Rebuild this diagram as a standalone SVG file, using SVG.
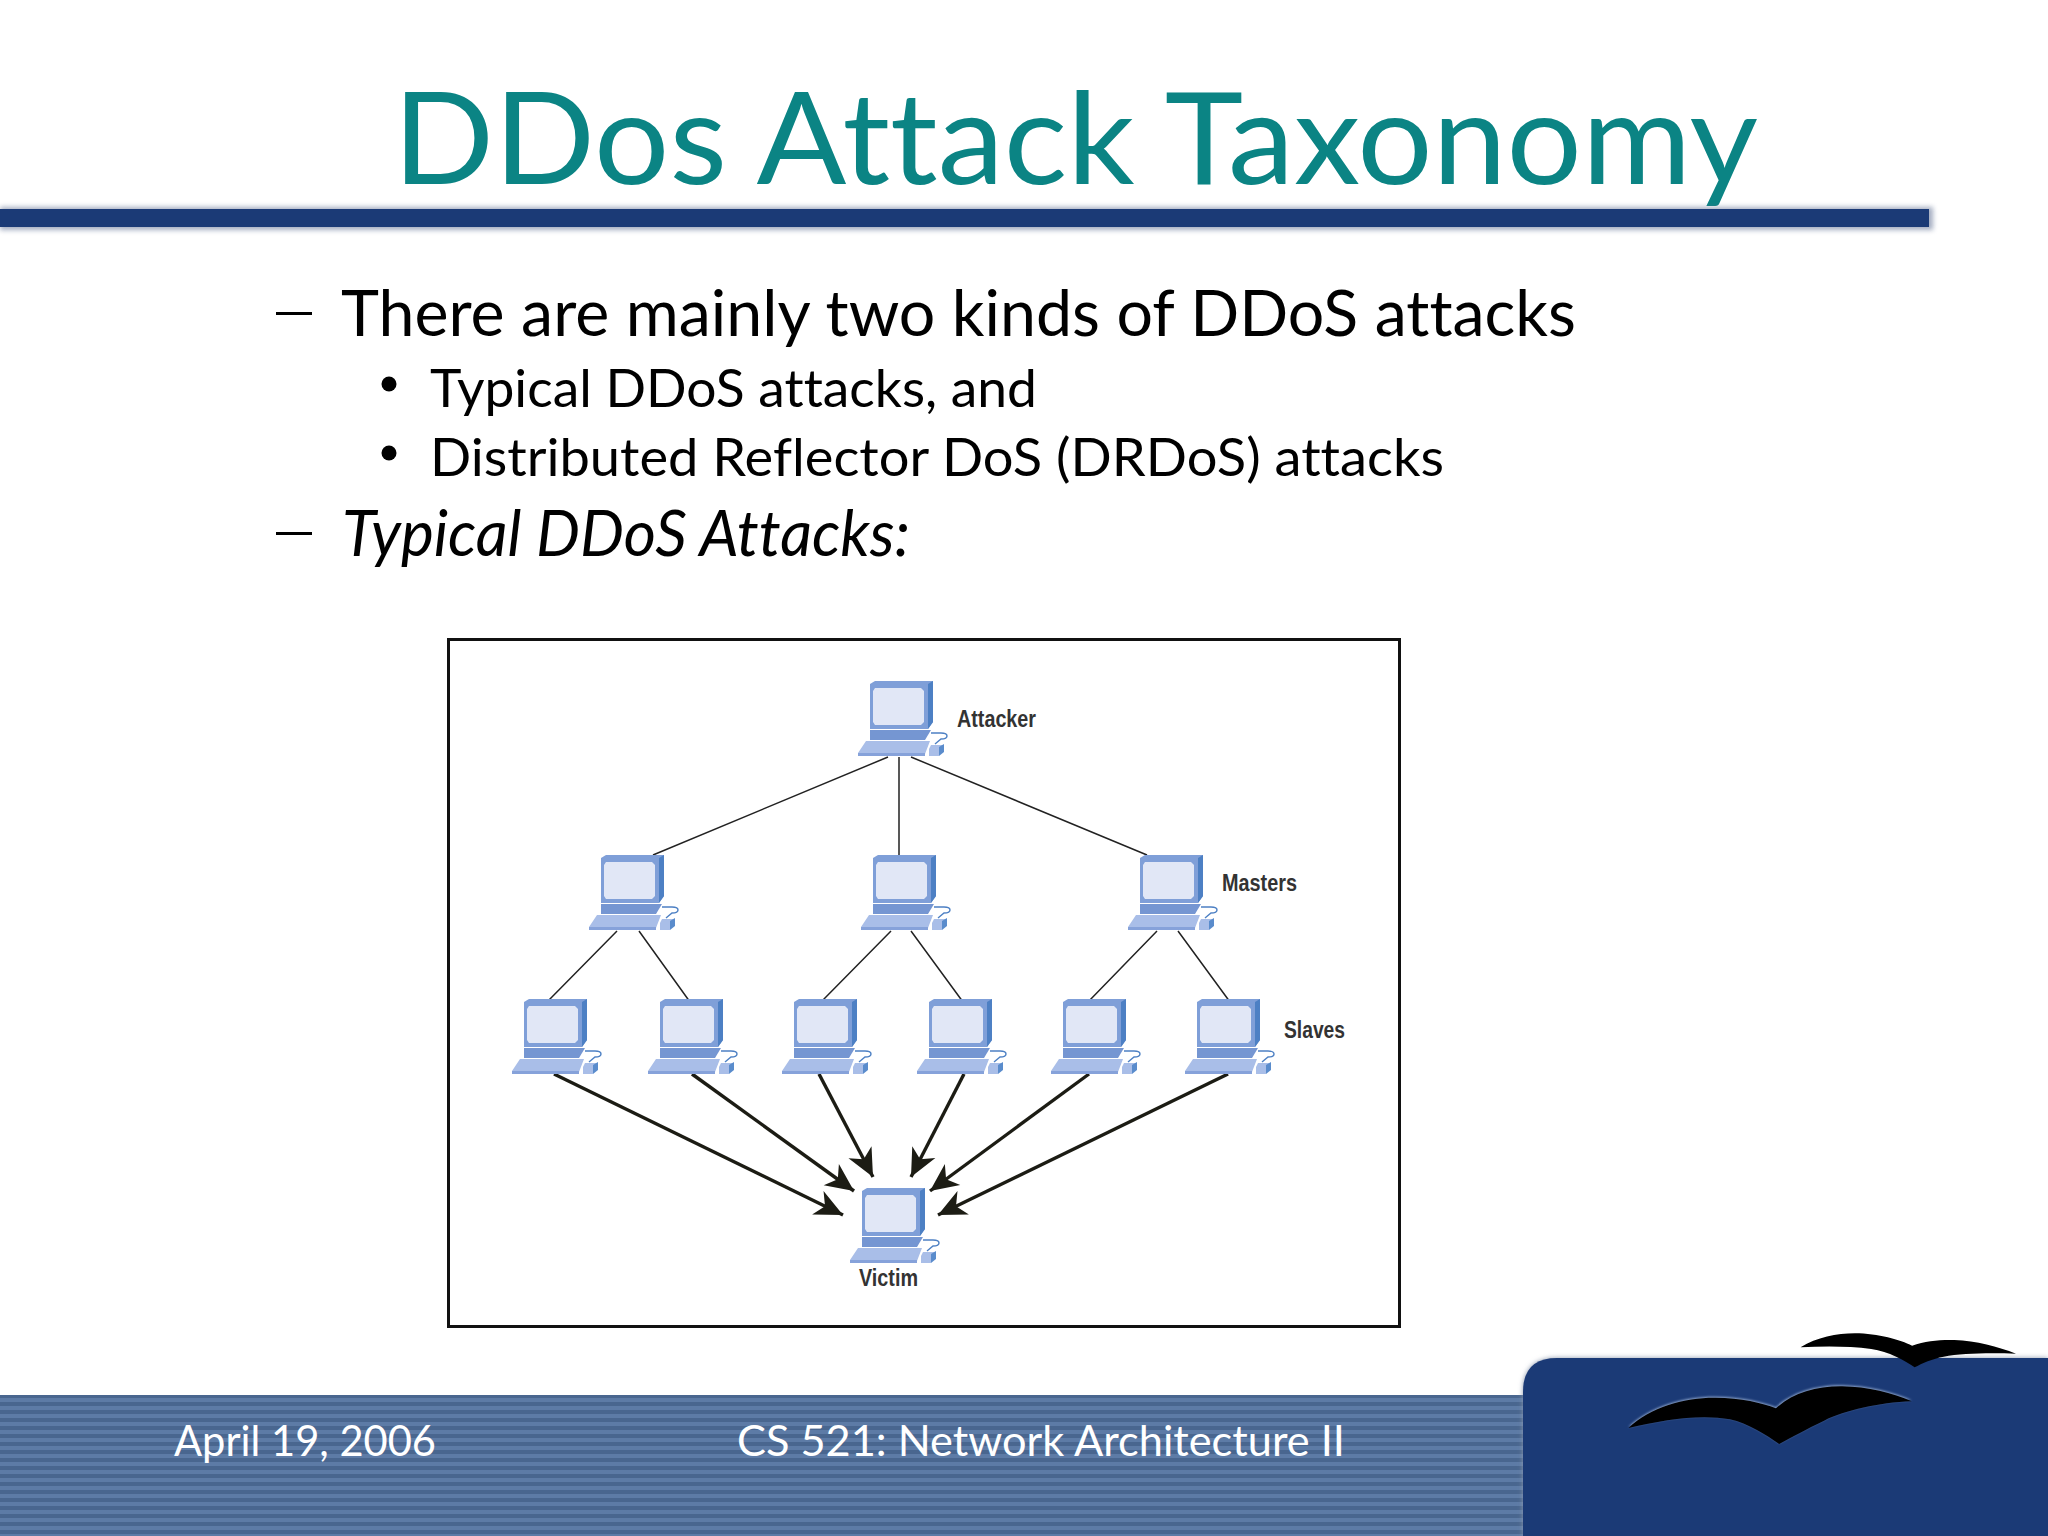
<svg xmlns="http://www.w3.org/2000/svg" width="2048" height="1536" viewBox="0 0 2048 1536">
<style>
text{font-family:"Lato","Open Sans","Liberation Sans",sans-serif;font-variant-ligatures:none}
.title{font-size:128px;fill:#0b8484}
.l1{font-size:64px;fill:#000}
.l2{font-size:53px;fill:#000}
.foot{font-size:43px;fill:#fff}
.lbl{font-family:"Liberation Sans",Arial,sans-serif;font-size:23px;font-weight:700;fill:#333}
.wire{stroke:#222;stroke-width:1.5;fill:none}
.arrow{stroke:#1c1c14;stroke-width:3.4;fill:none;marker-end:url(#head)}
</style>
<defs>
<marker id="head" markerUnits="userSpaceOnUse" markerWidth="32" markerHeight="30" refX="29" refY="15" orient="auto">
<path d="M29,15 L1,2 L9,15 L1,28 Z" fill="#1c1c14"/>
</marker>
<pattern id="stripes" width="8" height="8" patternUnits="userSpaceOnUse" y="1395">
<rect width="8" height="8" fill="#49668f"/>
<rect y="3" width="8" height="4" fill="#5d7ba6"/>
</pattern>
<filter id="soft" x="-5%" y="-50%" width="110%" height="200%"><feGaussianBlur stdDeviation="2.5"/></filter>
<filter id="glow" x="-10%" y="-30%" width="120%" height="160%"><feGaussianBlur stdDeviation="3"/></filter>
<symbol id="pc" overflow="visible">
<path d="M11,-72 L16,-75 L74,-75 L74,-34 L69,-27 L11,-27 Z" fill="#7f9fd8"/>
<path d="M69,-72 L74,-75 L74,-34 L69,-27 Z" fill="#4d80c4"/>
<path d="M16,-68 H62 L65,-65 V-34 L62,-31 H16 L14,-34 V-65 Z" fill="#e1e7f6"/>
<path d="M11,-26 H72 L66,-16 H11 Z" fill="#7596d2"/>
<path d="M7,-15 H71 L66,-2 V0 H-1 V-3 Z" fill="#a9bee8"/>
<path d="M-1,-3 H66 V0 H-1 Z" fill="#86a2da"/>
<path d="M72,-11 H84 L80,-1 V0 H70 V-7 Z" fill="#a9bee8"/>
<path d="M80,-9 L85,-12 V-4 L80,0 Z" fill="#5a8ccc"/>
<path d="M72,-23 H82 Q88,-23 88,-20 Q88,-17 82,-17 L76,-12" fill="none" stroke="#4d80c4" stroke-width="1.4"/>
</symbol>
<path id="bird1" d="M410,384 C470,320 570,292 650,293 C720,294 780,308 817,325 C860,280 930,258 1000,259 C1070,260 1140,280 1192,304 C1100,308 1010,330 950,362 C900,388 860,412 826,432 C790,405 740,370 690,358 C610,342 510,358 410,384 Z"/>
<path id="bird2" d="M885,142 C930,112 985,100 1035,100 C1100,100 1160,120 1193,137 C1230,122 1270,119 1310,120 C1370,122 1430,140 1480,161 C1400,158 1330,160 1280,170 C1250,176 1220,190 1200,202 C1170,180 1130,155 1080,147 C1020,138 950,138 885,142 Z"/>
</defs>
<rect width="2048" height="1536" fill="#fff"/>
<g id="title"><text class="title" x="393" y="184" textLength="1365" lengthAdjust="spacingAndGlyphs">DDos Attack Taxonomy</text></g>
<g id="rule">
<rect x="0" y="207" width="1933" height="23" fill="#5a6b8f" opacity=".55" filter="url(#soft)"/>
<rect x="0" y="209" width="1929" height="18" fill="#1b3a76"/>
</g>
<g id="body">
<rect x="276" y="312" width="36" height="3" fill="#000"/>
<text class="l1" x="341" y="336" textLength="1235" lengthAdjust="spacingAndGlyphs">There are mainly two kinds of DDoS attacks</text>
<circle cx="389" cy="384" r="7.500" fill="#000"/>
<text class="l2" x="430" y="407" textLength="607" lengthAdjust="spacingAndGlyphs">Typical DDoS attacks, and</text>
<circle cx="389" cy="453" r="7.500" fill="#000"/>
<text class="l2" x="430" y="476" textLength="1014" lengthAdjust="spacingAndGlyphs">Distributed Reflector DoS (DRDoS) attacks</text>
<rect x="276" y="532" width="36" height="3" fill="#000"/>
<text class="l1" x="342" y="556" font-style="italic" textLength="568" lengthAdjust="spacingAndGlyphs">Typical DDoS Attacks:</text>
</g>
<rect id="frame" x="448.500" y="639.500" width="951" height="687" fill="#fff" stroke="#111" stroke-width="3"/>
<g id="connectors">
<path class="wire" d="M888,757 L653,855 M899,757 V857 M911,757 L1147,855"/>
<path class="wire" d="M617,931 L549,1000 M639,931 L690,1002 M891,931 L823,1000 M911,931 L963,1002 M1157,931 L1088,1002 M1178,931 L1230,1002"/>
<path class="arrow" d="M554,1074 L843,1215"/>
<path class="arrow" d="M692,1074 L854,1191"/>
<path class="arrow" d="M819,1074 L873,1177"/>
<path class="arrow" d="M964,1074 L911,1177"/>
<path class="arrow" d="M1089,1074 L930,1191"/>
<path class="arrow" d="M1228,1074 L938,1215"/>
</g>
<g id="attacker"><use href="#pc" x="859" y="756"/><text class="lbl" x="957" y="727" textLength="79" lengthAdjust="spacingAndGlyphs">Attacker</text></g>
<g id="master1"><use href="#pc" x="590" y="930"/></g>
<g id="master2"><use href="#pc" x="862" y="930"/></g>
<g id="master3"><use href="#pc" x="1129" y="930"/><text class="lbl" x="1222" y="891" textLength="75" lengthAdjust="spacingAndGlyphs">Masters</text></g>
<g id="slave1"><use href="#pc" x="513" y="1074"/></g>
<g id="slave2"><use href="#pc" x="649" y="1074"/></g>
<g id="slave3"><use href="#pc" x="783" y="1074"/></g>
<g id="slave4"><use href="#pc" x="918" y="1074"/></g>
<g id="slave5"><use href="#pc" x="1052" y="1074"/></g>
<g id="slave6"><use href="#pc" x="1186" y="1074"/><text class="lbl" x="1284" y="1038" textLength="61" lengthAdjust="spacingAndGlyphs">Slaves</text></g>
<g id="victim"><use href="#pc" x="851" y="1263"/><text class="lbl" x="859" y="1286" textLength="59" lengthAdjust="spacingAndGlyphs">Victim</text></g>
<g id="footer">
<rect x="0" y="1395" width="1530" height="141" fill="url(#stripes)"/>
<path d="M1523,1536 V1392 Q1523,1358 1557,1358 H2048 V1536 Z" fill="#8a96ac" filter="url(#soft)"/>
<path d="M1523,1536 V1392 Q1523,1358 1557,1358 H2048 V1536 Z" fill="#1b3a76"/>
<text class="foot" x="174" y="1456" textLength="262" lengthAdjust="spacingAndGlyphs">April 19, 2006</text>
<text class="foot" x="737" y="1456" textLength="608" lengthAdjust="spacingAndGlyphs">CS 521: Network Architecture II</text>
<g id="logo" transform="translate(1480,1300) scale(.3622,.3333)">
<use href="#bird1" fill="#8fa6cc" filter="url(#glow)" transform="translate(0,-3)"/>
<use href="#bird1" fill="#000"/>
<use href="#bird2" fill="#000"/>
</g>
</g>
</svg>
